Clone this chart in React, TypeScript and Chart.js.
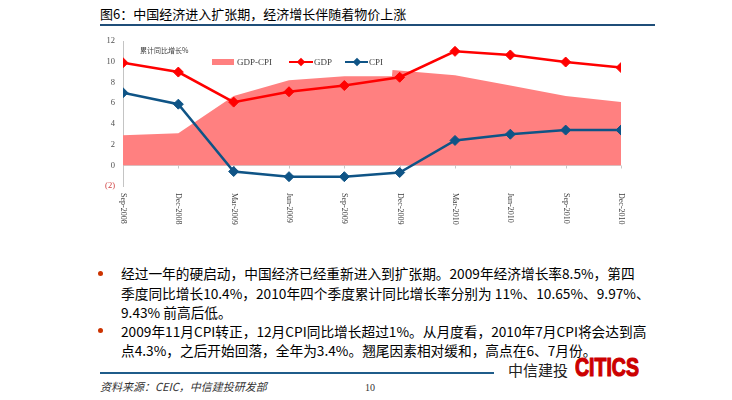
import React, { useEffect, useRef } from 'react';
import { Chart, registerables } from 'chart.js';

Chart.register(...registerables);

// ---- data ----
const categories = ['Sep-2008', 'Dec-2008', 'Mar-2009', 'Jun-2009', 'Sep-2009', 'Dec-2009', 'Mar-2010', 'Jun-2010', 'Sep-2010', 'Dec-2010'];
const gdp = [9.9, 9.0, 6.1, 7.1, 7.7, 8.5, 11.0, 10.65, 9.97, 9.43];
const cpi = [7.0, 5.9, -0.6, -1.1, -1.1, -0.7, 2.4, 3.0, 3.4, 3.4];
// GDP-CPI area (position on the quarter axis, value)
const gapX = [0, 1, 2, 3, 4, 4.86, 4.87, 6, 7, 8, 9];
const gapValues = [2.9, 3.1, 6.7, 8.2, 8.6, 8.6, 9.2, 8.7, 7.7, 6.7, 6.1];
const yMin = -2;
const yMax = 12;
const yStep = 2;

const CJK = '"Noto Sans CJK SC", "Noto Sans", sans-serif';
const SERIF = '"Liberation Serif", "DejaVu Serif", serif';

const RED = '#FF0000';
const BLUE = '#0F5486';
const PINK = '#FF8080';

export default function App() {
  const ref = useRef<HTMLCanvasElement | null>(null);

  useEffect(() => {
    if (!ref.current) return;
    const axisPlugin = {
      id: 'xAxisDecor',
      beforeDatasetsDraw(chart: any) {
        const { ctx } = chart;
        const xs = chart.scales.x;
        const ys = chart.scales.y;
        const y0 = Math.round(ys.getPixelForValue(0)) + 0.5;
        ctx.save();
        ctx.strokeStyle = '#C8C8C8';
        ctx.lineWidth = 1;
        categories.forEach((_c, i) => {
          const x = Math.round(xs.getPixelForValue(i)) + 0.5;
          ctx.beginPath();
          ctx.moveTo(x, y0);
          ctx.lineTo(x, y0 + 3);
          ctx.stroke();
        });
        ctx.restore();
      },
      afterDraw(chart: any) {
        const { ctx, chartArea } = chart;
        const xs = chart.scales.x;
        ctx.save();
        ctx.fillStyle = '#404040';
        ctx.font = '8px ' + SERIF;
        ctx.textAlign = 'left';
        ctx.textBaseline = 'middle';
        categories.forEach((c, i) => {
          const x = xs.getPixelForValue(i);
          ctx.save();
          ctx.translate(x, chartArea.bottom + 7);
          ctx.rotate(Math.PI / 2);
          ctx.fillText(c, 0, 0);
          ctx.restore();
        });
        ctx.restore();
      },
    };

    const chart = new Chart(ref.current, {
      type: 'line',
      data: {
        datasets: [
          {
            label: 'CPI',
            data: categories.map((_c, i) => ({ x: i, y: cpi[i] })),
            borderColor: BLUE,
            backgroundColor: BLUE,
            borderWidth: 2.5,
            pointStyle: 'rectRot',
            pointRadius: 5,
            pointBackgroundColor: BLUE,
            pointBorderColor: BLUE,
            pointBorderWidth: 1,
            tension: 0,
            fill: false,
            order: 0,
          },
          {
            label: 'GDP',
            data: categories.map((_c, i) => ({ x: i, y: gdp[i] })),
            borderColor: RED,
            backgroundColor: RED,
            borderWidth: 2.5,
            pointStyle: 'rectRot',
            pointRadius: 5,
            pointBackgroundColor: RED,
            pointBorderColor: RED,
            pointBorderWidth: 1,
            tension: 0,
            fill: false,
            order: 1,
          },
          {
            label: 'GDP-CPI',
            data: gapX.map((x, i) => ({ x, y: gapValues[i] })),
            borderColor: PINK,
            backgroundColor: PINK,
            borderWidth: 0,
            pointRadius: 0,
            tension: 0,
            fill: 'origin',
            order: 10,
          },
        ],
      },
      options: {
        animation: false,
        responsive: false,
        maintainAspectRatio: false,
        events: [],
        layout: { padding: { top: 41, right: 111, bottom: 44, left: 0 } },
        plugins: {
          legend: { display: false },
          tooltip: { enabled: false },
        },
        scales: {
          x: { type: 'linear', min: 0, max: categories.length - 1, display: false },
          y: {
            type: 'linear',
            min: yMin,
            max: yMax,
            afterFit: (s: any) => {
              s.width = 123;
            },
            ticks: {
              stepSize: yStep,
              padding: 8,
              font: { family: SERIF, size: 8.5 },
              color: (c: any) => (c.tick && c.tick.value < 0 ? '#D04040' : '#505050'),
              callback: (v: any) => (v < 0 ? `(${-v})` : `${v}`),
            },
            grid: {
              drawTicks: false,
              color: (c: any) => (c.tick && c.tick.value === 0 ? '#D0D0D0' : 'rgba(0,0,0,0)'),
            },
            border: { color: '#C4C4C4', width: 1 },
          },
        },
      },
      plugins: [axisPlugin],
    } as any);
    return () => chart.destroy();
  }, []);

  const abs = (s: React.CSSProperties): React.CSSProperties => ({ position: 'absolute', margin: 0, whiteSpace: 'pre', ...s });

  return (
    <div style={{ position: 'absolute', left: 0, top: 0, width: 732, height: 400, background: '#fff', overflow: 'hidden' }}>
      {/* title */}
      <div style={abs({ left: 100, top: 6, fontFamily: CJK, fontSize: 13, lineHeight: '16px', color: '#000' })}>
        图6：中国经济进入扩张期，经济增长伴随着物价上涨
      </div>
      <div style={abs({ left: 100, top: 24, width: 555, height: 2, background: '#1F4E79' })} />

      <canvas ref={ref} width={732} height={230} style={{ position: 'absolute', left: 0, top: 0, width: 732, height: 230 }} />

      {/* unit label */}
      <div style={abs({ left: 140, top: 45, fontFamily: CJK, fontSize: 7, lineHeight: '10px', color: '#404040' })}>累计同比增长%</div>

      {/* legend */}
      <div style={abs({ left: 212, top: 59, width: 22, height: 5.5, background: PINK })} />
      <div style={abs({ left: 237, top: 56, fontFamily: SERIF, fontSize: 9, lineHeight: '12px', color: '#404040' })}>GDP-CPI</div>
      <div style={abs({ left: 289, top: 60.75, width: 24, height: 2.5, background: RED })} />
      <div style={abs({ left: 298, top: 59, width: 6, height: 6, background: RED, transform: 'rotate(45deg)' })} />
      <div style={abs({ left: 314, top: 56, fontFamily: SERIF, fontSize: 9, lineHeight: '12px', color: '#404040' })}>GDP</div>
      <div style={abs({ left: 345, top: 60.75, width: 23, height: 2.5, background: BLUE })} />
      <div style={abs({ left: 353.5, top: 59, width: 6, height: 6, background: BLUE, transform: 'rotate(45deg)' })} />
      <div style={abs({ left: 369, top: 56, fontFamily: SERIF, fontSize: 9, lineHeight: '12px', color: '#404040' })}>CPI</div>

      {/* bullets */}
      <div style={abs({ left: 97.5, top: 270.5, width: 5, height: 5, borderRadius: '50%', background: '#CC3300' })} />
      <div style={abs({ left: 97.5, top: 327.5, width: 5, height: 5, borderRadius: '50%', background: '#CC3300' })} />
      <div style={abs({ left: 121, top: 264, fontFamily: CJK, fontSize: 13.7, lineHeight: '19.5px', color: '#000' })}>
        {'经过一年的硬启动，中国经济已经重新进入到扩张期。2009年经济增长率8.5%，第四\n季度同比增长10.4%，2010年四个季度累计同比增长率分别为 11%、10.65%、9.97%、\n9.43% 前高后低。'}
      </div>
      <div style={abs({ left: 121, top: 321.5, fontFamily: CJK, fontSize: 13.7, lineHeight: '19.5px', color: '#000' })}>
        {'2009年11月CPI转正，12月CPI同比增长超过1%。从月度看，2010年7月CPI将会达到高\n点4.3%，之后开始回落，全年为3.4%。翘尾因素相对缓和，高点在6、7月份。'}
      </div>

      {/* footer */}
      <div style={abs({ left: 100, top: 372, width: 394, height: 2, background: '#1F5C8A' })} />
      <div style={abs({ left: 508, top: 361, fontFamily: CJK, fontSize: 15, lineHeight: '18px', color: '#222' })}>中信建投</div>
      <div
        style={abs({
          left: 575,
          top: 355,
          fontFamily: '"Liberation Sans", Arial, sans-serif',
          fontWeight: 900,
          fontSize: 25,
          lineHeight: '25px',
          color: '#CC0000',
          WebkitTextStroke: '1.2px #CC0000',
          transform: 'scaleX(0.78)',
          transformOrigin: 'left center',
        } as any)}
      >
        CITICS
      </div>
      <div style={abs({ left: 100, top: 380, fontFamily: CJK, fontSize: 11, lineHeight: '13px', fontStyle: 'italic', color: '#333' })}>
        资料来源：CEIC，中信建投研发部
      </div>
      <div style={abs({ left: 365, top: 382, fontFamily: SERIF, fontSize: 10, lineHeight: '12px', color: '#333' })}>10</div>
    </div>
  );
}
